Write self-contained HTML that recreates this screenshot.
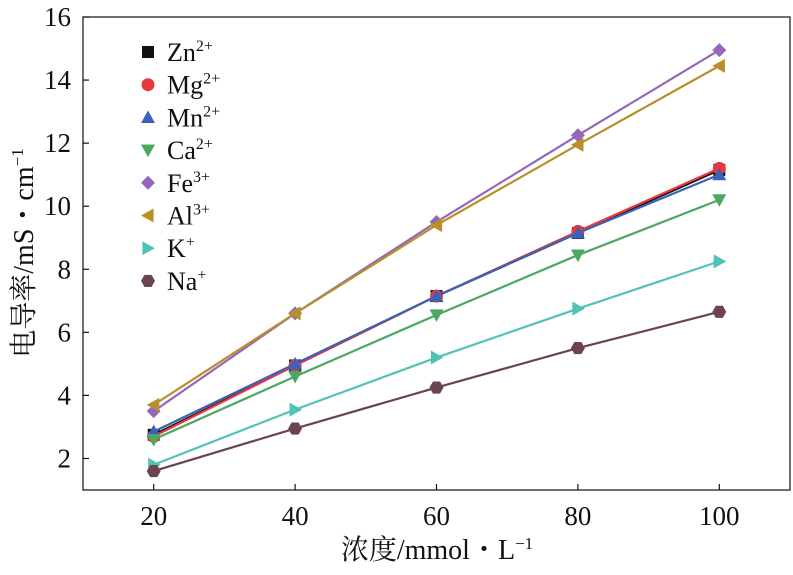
<!DOCTYPE html>
<html><head><meta charset="utf-8"><style>
body{margin:0;background:#fff}
svg text{font-family:"Liberation Serif","Noto Serif CJK SC",serif;fill:#111}
</style></head><body>
<svg id="c" width="793" height="570" viewBox="0 0 793 570"></svg>
<script>
const categories=[20,40,60,80,100];
const xTicks=[20,40,60,80,100];
const yTicks=[2,4,6,8,10,12,14,16];
const ionNames=["Zn","Mg","Mn","Ca","Fe","Al","K","Na"];
const ionSups=["2+","2+","2+","2+","3+","3+","+","+"];
const znValues=[2.75,4.95,7.15,9.15,11.15];
const mgValues=[2.7,4.95,7.15,9.2,11.2];
const mnValues=[2.85,5.0,7.15,9.15,11.0];
const caValues=[2.6,4.6,6.55,8.45,10.2];
const feValues=[3.5,6.6,9.5,12.25,14.95];
const alValues=[3.7,6.6,9.4,11.95,14.45];
const kValues=[1.8,3.55,5.2,6.75,8.25];
const naValues=[1.6,2.95,4.25,5.5,6.65];
const seriesValues=[znValues,mgValues,mnValues,caValues,feValues,alValues,kValues,naValues];
const colors=["#111","#e8383d","#3a62b8","#4aa860","#9467bd","#b8902a","#4fc3b5","#6b4450"];
const markers=["square","circle","up","down","diamond","left","right","hex"];
const L=83,R=790,T=17,B=490;
const x=v=>L+(v-10)/100*(R-L);
const y=v=>B-(v-1)/15*(B-T);
const svg=document.getElementById('c');
const NS="http://www.w3.org/2000/svg";
function mk(t,a,p){const e=document.createElementNS(NS,t);for(const k in a)e.setAttribute(k,a[k]);(p||svg).appendChild(e);return e;}
function marker(type,cx,cy,col,g){
 const s=7;let e;
 if(type=="square")e=mk('rect',{x:cx-6,y:cy-6,width:12,height:12,fill:col},g);
 else if(type=="circle")e=mk('circle',{cx,cy,r:6.5,fill:col},g);
 else{let p;
  if(type=="up")p=[[0,-s],[s,s*0.8],[-s,s*0.8]];
  else if(type=="down")p=[[0,s],[s,-s*0.8],[-s,-s*0.8]];
  else if(type=="left")p=[[-s,0],[s*0.8,-s],[s*0.8,s]];
  else if(type=="right")p=[[s,0],[-s*0.8,-s],[-s*0.8,s]];
  else if(type=="diamond")p=[[0,-s],[s,0],[0,s],[-s,0]];
  else{p=[];for(let i=0;i<6;i++){const a=Math.PI/3*i;p.push([s*Math.cos(a),s*Math.sin(a)]);}}
  e=mk('polygon',{points:p.map(q=>(cx+q[0])+","+(cy+q[1])).join(" "),fill:col},g);}
 return e;}
const frame=mk('rect',{x:L,y:T,width:R-L,height:B-T,fill:"none",stroke:"#111","stroke-width":1.2});


xTicks.forEach(v=>{
 const t=mk('line',{x1:x(v),x2:x(v),y1:B,y2:B-6,stroke:"#111","stroke-width":1.2});
 
 
 const l=mk('text',{x:x(v),y:B+35,"text-anchor":"middle","font-size":27});l.textContent=v;
 
 
});
yTicks.forEach(v=>{
 const t=mk('line',{x1:L,x2:L+6,y1:y(v),y2:y(v),stroke:"#111","stroke-width":1.2});
 
 
 const l=mk('text',{x:L-12,y:y(v)+9,"text-anchor":"end","font-size":27});l.textContent=v;
 
 
});
seriesValues.forEach((vals,i)=>{
 const g=mk('g',{});
 
 
 const pl=mk('polyline',{points:vals.map((v,j)=>x(categories[j])+","+y(v)).join(" "),fill:"none",stroke:colors[i],"stroke-width":2.2},g);
 
 
 vals.forEach((v,j)=>{const m=marker(markers[i],x(categories[j]),y(v),colors[i],g);
  
  });
 const lg=mk('g',{});
 
 
 const ly=52+i*32.7;
 marker(markers[i],148,ly,colors[i],lg);
 const tx=mk('text',{x:167,y:ly+9,"font-size":26},lg);
 tx.innerHTML=ionNames[i]+'<tspan dy="-10" font-size="16">'+ionSups[i]+'</tspan>';
});
const xt=mk('text',{x:437,y:559,"text-anchor":"middle","font-size":28});
xt.innerHTML='浓度/mmol・L<tspan dy="-10" font-size="17">−1</tspan>';


const yt=mk('text',{transform:"translate(33,253) rotate(-90)","text-anchor":"middle","font-size":28});
yt.innerHTML='电导率/mS・cm<tspan dy="-10" font-size="17">−1</tspan>';


</script>
</body></html>
